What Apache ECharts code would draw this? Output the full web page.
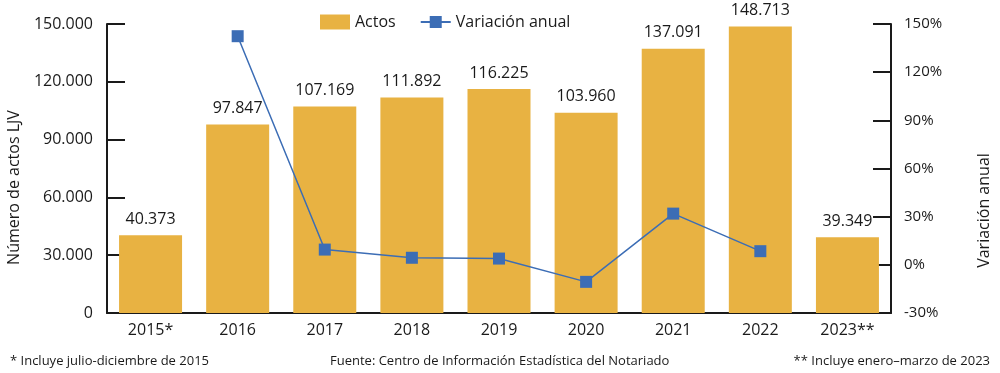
<!DOCTYPE html>
<html><head><meta charset="utf-8">
<script src="https://cdn.jsdelivr.net/npm/echarts@6/dist/echarts.min.js"></script>
<style>html,body{margin:0;padding:0;background:#fff}#c{width:1000px;height:373px}</style>
</head><body><div id="c"></div>
<script>
const categories = ['2015*','2016','2017','2018','2019','2020','2021','2022','2023**'];
const actos = [40373, 97847, 107169, 111892, 116225, 103960, 137091, 148713, 39349];
const variacion = [null, 142.4, 9.5, 4.4, 3.9, -10.6, 31.9, 8.5, null];
const leftTicks = ['0','30.000','60.000','90.000','120.000','150.000'];
const footLeft = '* Incluye julio-diciembre de 2015';
const footCenter = 'Fuente: Centro de Información Estadística del Notariado';
const footRight = '** Incluye enero–marzo de 2023';

const FONT = '"Open Sans", "Noto Sans", sans-serif';
const chart = echarts.init(document.getElementById('c'));
const fmt = v => v.toString().replace(/\B(?=(\d{3})+(?!\d))/g, '.');
chart.setOption({
  animation: false,
  textStyle: {fontFamily: FONT, color: '#1a1a1a'},
  grid: {left: 107, right: 109, top: 24, bottom: 60, containLabel: false, outerBoundsMode: 'none'},
  legend: {
    top: 9, left: 315,
    itemWidth: 30, itemHeight: 15, itemGap: 24,
    textStyle: {fontSize: 16, color: '#1a1a1a', fontFamily: FONT},
    data: [{name: 'Actos', icon: 'rect'}, {name: 'Variación anual'}]
  },
  xAxis: {
    type: 'category', data: categories,
    axisLine: {lineStyle: {color: '#1a1a1a', width: 2}},
    axisTick: {inside: true, length: 6, lineStyle: {color: '#1a1a1a', width: 1.5}},
    axisLabel: {fontSize: 16, color: '#1a1a1a', margin: 9, fontFamily: FONT}
  },
  yAxis: [{
    type: 'value', min: 0, max: 150000, interval: 30000,
    name: 'Número de actos LJV', nameLocation: 'middle', nameGap: 85, nameRotate: 90,
    nameTextStyle: {fontSize: 16, color: '#1a1a1a', fontFamily: FONT, padding: [0, 38, 0, 0]},
    axisLine: {show: true, lineStyle: {color: '#1a1a1a', width: 2}},
    axisTick: {show: true, inside: true, length: 18, lineStyle: {color: '#1a1a1a', width: 2}},
    splitLine: {show: false},
    axisLabel: {fontSize: 16, color: '#1a1a1a', margin: 14, fontFamily: FONT,
      formatter: (v) => leftTicks[Math.round(v / 30000)]}
  }, {
    type: 'value', min: -30, max: 150, interval: 30,
    name: 'Variación anual', nameLocation: 'middle', nameGap: 85, nameRotate: 90,
    nameTextStyle: {fontSize: 16, color: '#1a1a1a', fontFamily: FONT, padding: [0, 84, 0, 0]},
    axisLine: {show: true, lineStyle: {color: '#1a1a1a', width: 2}},
    axisTick: {show: true, inside: true, length: 18, lineStyle: {color: '#1a1a1a', width: 2}},
    splitLine: {show: false},
    axisLabel: {fontSize: 15, color: '#1a1a1a', margin: 13, fontFamily: FONT, formatter: '{value}%'}
  }],
  series: [{
    name: 'Actos', type: 'bar', data: actos, barWidth: 63,
    itemStyle: {color: '#E8B242'},
    label: {show: true, position: 'top', distance: 8, fontSize: 16, color: '#1a1a1a',
      fontFamily: FONT, formatter: p => fmt(p.value)}
  }, {
    name: 'Variación anual', type: 'line', yAxisIndex: 1, data: variacion,
    symbol: 'rect', symbolSize: 12, connectNulls: false,
    lineStyle: {color: '#3C6DB5', width: 1.5},
    itemStyle: {color: '#3C6DB5'}
  }],
  graphic: [
    {type: 'text', left: 10, top: 355, style: {text: footLeft, font: '13px ' + FONT, fill: '#1a1a1a'}},
    {type: 'text', left: 330, top: 355, style: {text: footCenter, font: '13px ' + FONT, fill: '#1a1a1a'}},
    {type: 'text', right: 10, top: 355, style: {text: footRight, font: '13px ' + FONT, fill: '#1a1a1a'}}
  ]
});
</script></body></html>
